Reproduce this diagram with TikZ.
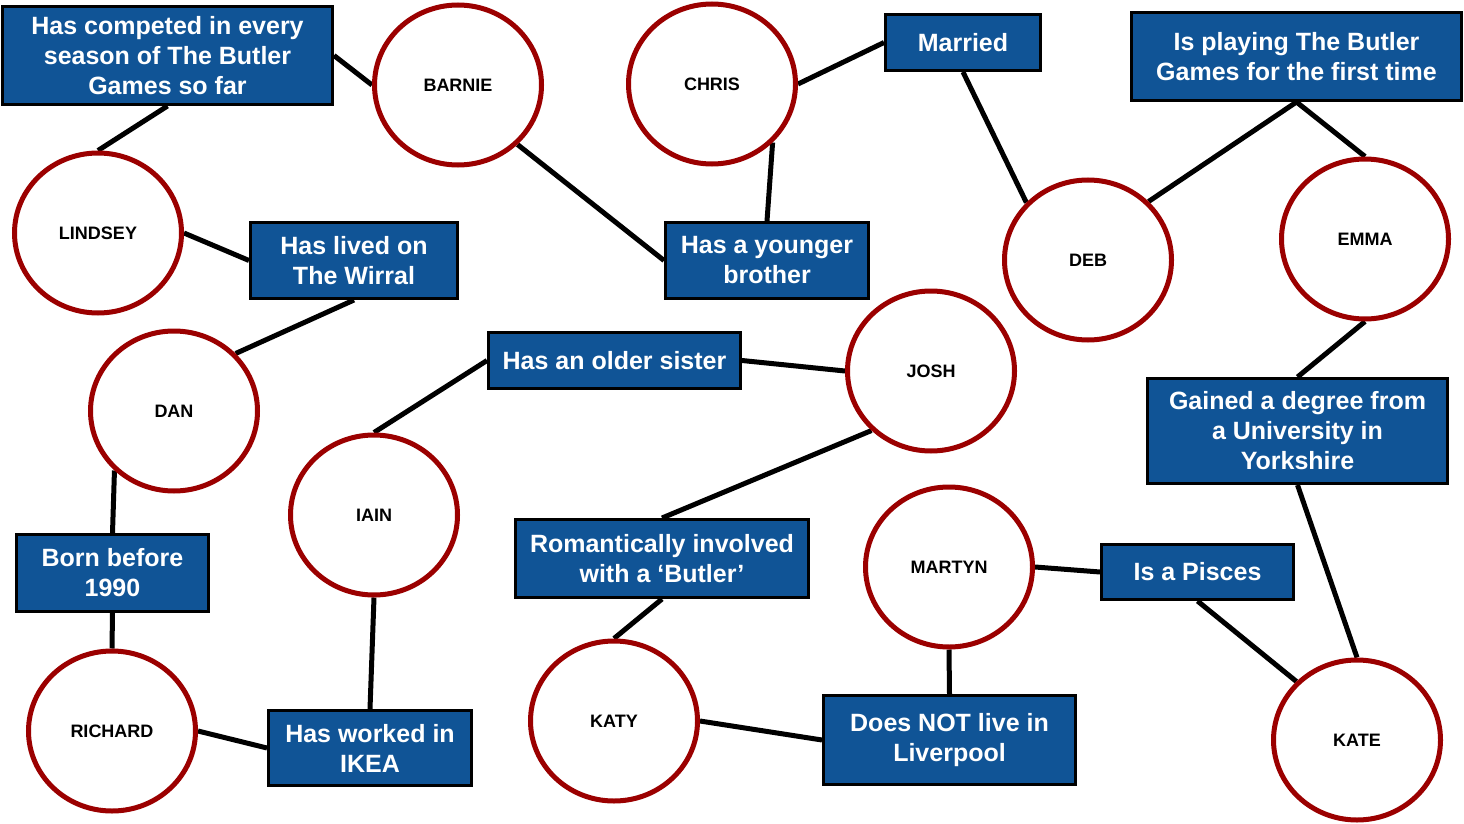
\documentclass[tikz,border=0pt]{standalone}
\usepackage{fontspec}
\setmainfont{Liberation Sans}
\usetikzlibrary{shapes.geometric,backgrounds}
\definecolor{boxblue}{RGB}{16,84,150}
\definecolor{ringred}{RGB}{155,0,0}
\begin{document}
\begin{tikzpicture}[x=1pt,y=-1pt,
  fact/.style={rectangle, draw=black, line width=3pt, fill=boxblue, text=white,
    font=\fontsize{25}{30}\selectfont\bfseries, align=center, inner sep=0pt},
  person/.style={ellipse, draw=ringred, line width=5pt, fill=white,
    minimum width=167pt, minimum height=160pt, inner sep=0pt,
    font=\fontsize{18}{20}\selectfont\bfseries},
  link/.style={line width=5pt, draw=black}]
\useasboundingbox (0,0) rectangle (1464,824);

% facts
\node[fact, minimum width=330pt, minimum height=98pt] (f1) at (167.5,55.5) {Has competed in every\\season of The Butler\\Games so far};
\node[fact, minimum width=155pt, minimum height=56pt] (f2) at (963,42.5) {Married};
\node[fact, minimum width=330pt, minimum height=88pt] (f3) at (1296.5,56.5) {Is playing The Butler\\Games for the first time};
\node[fact, minimum width=207pt, minimum height=76pt] (f4) at (354,260.5) {Has lived on\\The Wirral};
\node[fact, minimum width=203pt, minimum height=76pt] (f5) at (767,260.5) {Has a younger\\brother};
\node[fact, minimum width=252pt, minimum height=56pt] (f6) at (614.5,360.5) {Has an older sister};
\node[fact, minimum width=300pt, minimum height=105pt] (f7) at (1297.5,431) {Gained a degree from\\a University in\\Yorkshire};
\node[fact, minimum width=192pt, minimum height=77pt] (f8) at (112.5,573) {Born before\\1990};
\node[fact, minimum width=293pt, minimum height=78pt] (f9) at (662,558.5) {Romantically involved\\with a ‘Butler’};
\node[fact, minimum width=192pt, minimum height=55pt] (f10) at (1197.5,572) {Is a Pisces};
\node[fact, minimum width=203pt, minimum height=75pt] (f11) at (370,748) {Has worked in\\IKEA};
\node[fact, minimum width=252pt, minimum height=89pt] (f12) at (949.5,740) {Does NOT live in\\Liverpool};

% people
\node[person] (barnie) at (458,85) {BARNIE};
\node[person] (chris) at (712,84) {CHRIS};
\node[person] (lindsey) at (98,233) {LINDSEY};
\node[person] (dan) at (174,411) {DAN};
\node[person] (iain) at (374,515) {IAIN};
\node[person] (josh) at (931,371) {JOSH};
\node[person] (deb) at (1088,260) {DEB};
\node[person] (emma) at (1365,239) {EMMA};
\node[person] (martyn) at (949,567) {MARTYN};
\node[person] (katy) at (614,721) {KATY};
\node[person] (richard) at (112,731) {RICHARD};
\node[person] (kate) at (1357,740) {KATE};

\begin{pgfonlayer}{background}
\draw[link] (f1.south) -- (lindsey.90);
\draw[link] (f1.east) -- (barnie.180);
\draw[link] (barnie.-45) -- (f5.west);
\draw[link] (lindsey.0) -- (f4.west);
\draw[link] (f4.south) -- (dan.43);
\draw[link] (chris.0) -- (f2.west);
\draw[link] (chris.-44) -- (f5.north);
\draw[link] (f2.south) -- (deb.137);
\draw[link] (f3.south) -- (deb.44);
\draw[link] (f3.south) -- (emma.90);
\draw[link] (emma.270) -- (f7.north);
\draw[link] (f7.south) -- (kate.90);
\draw[link] (f6.west) -- (iain.90);
\draw[link] (f6.east) -- (josh.180);
\draw[link] (josh.225) -- (f9.north);
\draw[link] (dan.225) -- (f8.north);
\draw[link] (f8.south) -- (richard.90);
\draw[link] (richard.0) -- (f11.west);
\draw[link] (iain.270) -- (f11.north);
\draw[link] (f9.south) -- (katy.90);
\draw[link] (katy.0) -- (f12.west);
\draw[link] (martyn.270) -- (f12.north);
\draw[link] (martyn.0) -- (f10.west);
\draw[link] (f10.south) -- (kate.136);
\end{pgfonlayer}
\end{tikzpicture}
\end{document}
